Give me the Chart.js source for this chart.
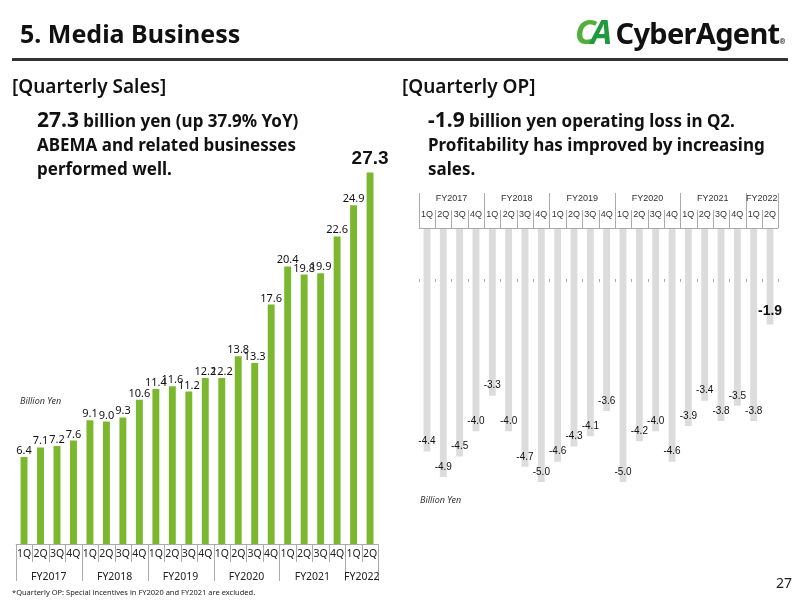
<!DOCTYPE html>
<html>
<head>
<meta charset="utf-8">
<script src="https://cdn.jsdelivr.net/npm/chart.js@4/dist/chart.umd.min.js"></script>
<style>
  body { margin: 0; width: 800px; height: 600px; position: relative; overflow: hidden; background: #fff;
         font-family: "Noto Sans", Lato, sans-serif; color: #111; }
  canvas { position: absolute; top: 0; }
  #sales { left: 0; }
  #op { left: 400px; }
  .t { position: absolute; white-space: nowrap; font-weight: 700; z-index: 2; }
  .rule { position: absolute; left: 12px; top: 58px; width: 776px; height: 3px; background: #333; }
</style>
</head>
<body>
<div class="t" style="left:20px;top:17px;font-size:25px;line-height:32px">5. Media Business</div>
<div class="t" style="left:575px;top:12px;font-size:29px;line-height:38px;letter-spacing:-0.7px">
  <span style="color:#52b03a;font-style:italic;letter-spacing:-5px;font-size:34px">C</span><span style="color:#1e9a3e;font-style:italic;font-size:34px">A</span><span style="color:#111;margin-left:4px">CyberAgent</span><span style="font-size:7px;vertical-align:baseline">®</span>
</div>
<div class="rule"></div>

<div class="t" style="left:12px;top:73px;font-size:19px;line-height:26px;font-weight:600">[Quarterly Sales]</div>
<div class="t" style="left:37px;top:107px;font-size:17px;line-height:24px">
  <span style="font-size:21px">27.3</span> billion yen (up 37.9% YoY)<br>ABEMA and related businesses<br>performed well.
</div>

<div class="t" style="left:402px;top:73px;font-size:19px;line-height:26px;font-weight:600">[Quarterly OP]</div>
<div class="t" style="left:428px;top:107px;font-size:17px;line-height:24px">
  <span style="font-size:21px">-1.9</span> billion yen operating loss in Q2.<br>Profitability has improved by increasing<br>sales.
</div>

<div class="t" style="left:20px;top:394px;font-size:9px;font-weight:400;font-style:italic;color:#333">Billion Yen</div>
<div class="t" style="left:420px;top:493px;font-size:9px;font-weight:400;font-style:italic;color:#333">Billion Yen</div>
<div class="t" style="left:12px;top:587px;font-size:7.5px;font-weight:400;color:#222">*Quarterly OP: Special incentives in FY2020 and FY2021 are excluded.</div>
<div class="t" style="left:776px;top:573px;font-size:14px;font-weight:400;color:#222">27</div>

<canvas id="sales" width="400" height="600"></canvas>
<canvas id="op" width="400" height="600"></canvas>

<script>
// Quarter labels and fiscal-year groups shared by both charts.
const quarters = ["1Q","2Q","3Q","4Q","1Q","2Q","3Q","4Q","1Q","2Q","3Q","4Q",
                  "1Q","2Q","3Q","4Q","1Q","2Q","3Q","4Q","1Q","2Q"];
const fiscalYears = ["FY2017","FY2018","FY2019","FY2020","FY2021","FY2022"];
const yearQuarters = [4, 4, 4, 4, 4, 2];

// Quarterly sales, billion yen.
const sales = [6.4, 7.1, 7.2, 7.6, 9.1, 9.0, 9.3, 10.6, 11.4, 11.6, 11.2,
               12.2, 12.2, 13.8, 13.3, 17.6, 20.4, 19.8, 19.9, 22.6, 24.9, 27.3];
// Quarterly operating profit, billion yen.
const op = [-4.4, -4.9, -4.5, -4.0, -3.3, -4.0, -4.7, -5.0, -4.6, -4.3, -4.1,
            -3.6, -5.0, -4.2, -4.0, -4.6, -3.9, -3.4, -3.8, -3.5, -3.8, -1.9];

// Value labels: plain for every bar, big and bold for the latest quarter.
const valueLabels = {
  id: "valueLabels",
  afterDatasetsDraw(chart, args, opts) {
    const ctx = chart.ctx;
    const meta = chart.getDatasetMeta(0);
    const values = chart.data.datasets[0].data;
    ctx.save();
    ctx.fillStyle = "#111";
    ctx.textAlign = "center";
    meta.data.forEach((bar, i) => {
      const last = i === values.length - 1;
      const txt = values[i].toFixed(1);
      if (opts.below) {
        ctx.textBaseline = "middle";
        ctx.font = last ? "bold 14px 'Liberation Sans', Arial" : "10px 'Liberation Sans', Arial";
        ctx.fillText(txt, bar.x, bar.y - (last ? 13 : 10));
      } else {
        ctx.textBaseline = "alphabetic";
        ctx.font = last ? "bold 19px 'Liberation Sans', Arial" : "11px 'Noto Sans', sans-serif";
        ctx.fillText(txt, bar.x, bar.y - (last ? 9 : 3));
      }
    });
    ctx.restore();
  },
};

// Two-row table axis (quarters + fiscal years) drawn off the x scale.
const axisTable = {
  id: "axisTable",
  afterDraw(chart, args, opts) {
    const ctx = chart.ctx;
    const xs = chart.scales.x;
    const area = chart.chartArea;
    const step = (xs.right - xs.left) / quarters.length;
    const top = opts.position === "top";
    const y0 = top ? area.top : area.bottom;
    const dir = top ? -1 : 1;
    const yearEdge = new Set([0]);
    let acc = 0;
    yearQuarters.forEach((n) => { acc += n; yearEdge.add(acc); });

    ctx.save();
    ctx.strokeStyle = opts.line;
    ctx.lineWidth = 1;
    ctx.beginPath();
    ctx.moveTo(xs.left, y0 + 0.5);
    ctx.lineTo(xs.right, y0 + 0.5);
    for (let i = 0; i <= quarters.length; i++) {
      const x = Math.round(xs.left + i * step) + 0.5;
      const len = yearEdge.has(i) ? opts.yearLen : opts.qLen;
      ctx.moveTo(x, y0);
      ctx.lineTo(x, y0 + dir * len);
      if (opts.breakY) {
        ctx.moveTo(x, y0 + opts.breakY);
        ctx.lineTo(x, y0 + opts.breakY + 3);
      }
    }
    ctx.stroke();

    ctx.fillStyle = opts.color;
    ctx.textAlign = "center";
    ctx.textBaseline = "middle";
    ctx.font = opts.font;
    quarters.forEach((q, i) => {
      ctx.fillText(q, xs.getPixelForValue(i), y0 + dir * opts.qRow);
    });
    let start = 0;
    fiscalYears.forEach((fy, k) => {
      const mid = xs.left + (start + yearQuarters[k] / 2) * step;
      ctx.fillText(fy, mid, y0 + dir * opts.yearRow);
      start += yearQuarters[k];
    });
    ctx.restore();
  },
};

function barChart(id, values, color, pad, yMin, yMax, labelOpts, axisOpts) {
  return new Chart(document.getElementById(id), {
    type: "bar",
    data: {
      labels: quarters,
      datasets: [{ data: values, backgroundColor: color, barPercentage: 0.42, categoryPercentage: 1 }],
    },
    options: {
      responsive: false,
      animation: false,
      layout: { padding: pad },
      plugins: {
        legend: { display: false },
        tooltip: { enabled: false },
        valueLabels: labelOpts,
        axisTable: axisOpts,
      },
      scales: {
        x: { display: false, offset: true },
        y: { display: false, min: yMin, max: yMax },
      },
    },
    plugins: [valueLabels, axisTable],
  });
}

barChart("sales", sales, "#7cb82f",
  { left: 15.8, right: 21.7, top: 163, bottom: 56 }, 0, 28,
  { below: false },
  { position: "bottom", line: "#aaa", qLen: 18, yearLen: 37, qRow: 10, yearRow: 33,
    color: "#222", font: "10.5px 'Noto Sans', sans-serif" });

barChart("op", op, "#dcdcdc",
  { left: 18.8, right: 21.8, top: 228, bottom: 92.6 }, -5.5, 0,
  { below: true },
  { position: "top", line: "#aaa", qLen: 18, yearLen: 35, qRow: 13, yearRow: 29,
    color: "#333", font: "9px 'Liberation Sans', Arial", breakY: 51 });
</script>
</body>
</html>
